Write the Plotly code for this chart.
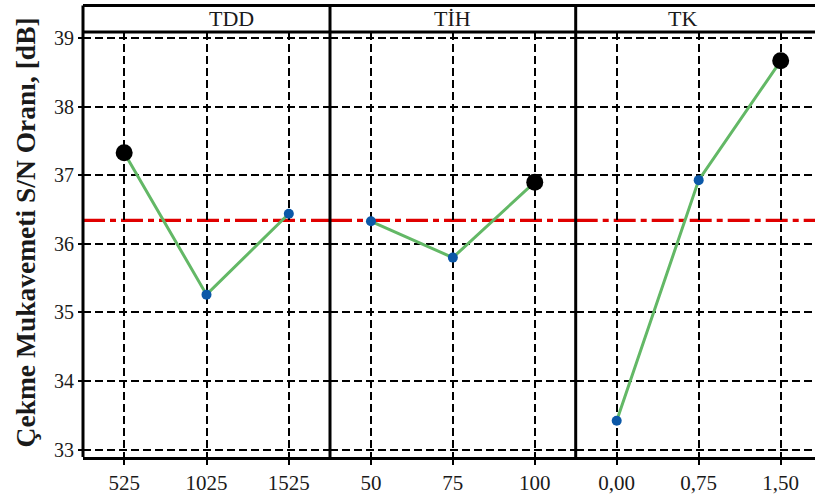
import plotly.graph_objects as go

# ---- data ----
panel_titles = ["TDD", "TİH", "TK"]
tdd_levels = ["525", "1025", "1525"]
tdd_sn = [37.33, 35.26, 36.44]
tih_levels = ["50", "75", "100"]
tih_sn = [36.33, 35.80, 36.90]
tk_levels = ["0,00", "0,75", "1,50"]
tk_sn = [33.42, 36.93, 38.67]
y_ticks = [33, 34, 35, 36, 37, 38, 39]
y_title = "Çekme Mukavemeti S/N Oranı, [dB]"

levels = [tdd_levels, tih_levels, tk_levels]
values = [tdd_sn, tih_sn, tk_sn]
all_vals = tdd_sn + tih_sn + tk_sn
overall_mean = sum(all_vals) / len(all_vals)

W, H = 815, 495
ML, MT, MB = 83, 31.5, 38.3
plot_w = W - ML
plot_h = H - MT - MB
px_unit = 82.0
b1 = 247 / plot_w
b2 = 492.7 / plot_w
domains = [[0, b1], [b1, b2], [b2, 1]]
x_ranges = [[-0.5, 2.5], [-0.5, 2.5], [-0.5, -0.5 + (plot_w - 492.7) / px_unit]]

FONT = "Liberation Serif"
GREEN = "#63b866"
BLUE = "#0b58a8"
RED = "#e00000"
TXT = "#1a1a1a"

fig = go.Figure()
for i in range(3):
    xa = "x" if i == 0 else f"x{i+1}"
    ya = "y" if i == 0 else f"y{i+1}"
    vals = values[i]
    imax = vals.index(max(vals))
    colors = ["#000000" if j == imax else BLUE for j in range(len(vals))]
    sizes = [17 if j == imax else 10 for j in range(len(vals))]
    fig.add_trace(go.Scatter(
        x=levels[i], y=vals, mode="lines+markers",
        line=dict(color=GREEN, width=3),
        marker=dict(color=colors, size=sizes, opacity=1, line=dict(width=0)),
        xaxis=xa, yaxis=ya, showlegend=False, cliponaxis=False,
    ))
    fig.add_shape(type="line", xref=f"{xa} domain", yref=ya,
                  x0=0, x1=1, y0=overall_mean, y1=overall_mean,
                  line=dict(color=RED, width=3.2, dash="22px,5px,6px,5px"),
                  layer="below")

yr = [33 - (456.7 - 449.3) / 68.6, 39 + (37.7 - 31.5) / 68.6]
axis_common = dict(
    showgrid=True, gridcolor="black", gridwidth=1.6, griddash="8px,4px",
    zeroline=False,
)
layout = dict(
    width=W, height=H,
    margin=dict(l=ML, r=0, t=MT, b=MB),
    plot_bgcolor="white", paper_bgcolor="white",
    font=dict(family=FONT, size=20, color=TXT),
)
for i in range(3):
    xk = "xaxis" if i == 0 else f"xaxis{i+1}"
    yk = "yaxis" if i == 0 else f"yaxis{i+1}"
    ya = "y" if i == 0 else f"y{i+1}"
    xa = "x" if i == 0 else f"x{i+1}"
    layout[xk] = dict(
        axis_common, type="category", domain=domains[i], range=x_ranges[i],
        anchor=ya, showline=True, linecolor="black", linewidth=3,
        ticks="outside", ticklen=5, tickwidth=2, tickcolor="black",
        tickmode="array", tickvals=levels[i], ticktext=levels[i],
        tickfont=dict(family=FONT, size=21, color=TXT),
        categoryorder="array", categoryarray=levels[i],
    )
    ydict = dict(
        axis_common, range=yr, anchor=xa, tickvals=y_ticks,
        showline=False,
    )
    if i == 0:
        ydict.update(ticks="outside", ticklen=4, tickwidth=2, tickcolor="black",
                     tickfont=dict(family=FONT, size=20, color=TXT))
    else:
        ydict.update(showticklabels=False, matches="y")
    layout[yk] = ydict
fig.update_layout(**layout)

# y-axis title as rotated annotation
fig.add_annotation(x=(25 - ML) / plot_w, y=(H - MB - 232) / plot_h,
                   xref="paper", yref="paper", text=f"<b>{y_title}</b>",
                   textangle=-90, showarrow=False, xanchor="center", yanchor="middle",
                   font=dict(family=FONT, size=27.5, color=TXT))

# strip + panel borders
top = (H - MB - 5) / plot_h
for xb in [0, b1, b2]:
    fig.add_shape(type="line", xref="paper", yref="paper", x0=xb, x1=xb,
                  y0=0, y1=top, line=dict(color="black", width=3), layer="above")
for yb in [1, top]:
    fig.add_shape(type="line", xref="paper", yref="paper", x0=0, x1=1.01,
                  y0=yb, y1=yb, line=dict(color="black", width=3), layer="above")
centers = [(domains[0][0] + domains[0][1]) / 2, (domains[1][0] + domains[1][1]) / 2,
           b2 + (1.5 / (x_ranges[2][1] + 0.5)) * (1 - b2)]
for c, t in zip(centers, panel_titles):
    fig.add_annotation(x=c, y=(1 + top) / 2, xref="paper", yref="paper",
                       text=t, showarrow=False, yanchor="middle",
                       font=dict(family=FONT, size=22, color=TXT))

fig.write_html("out.html",
               config={"displayModeBar": False},
               post_script="document.body.style.margin='0';")
